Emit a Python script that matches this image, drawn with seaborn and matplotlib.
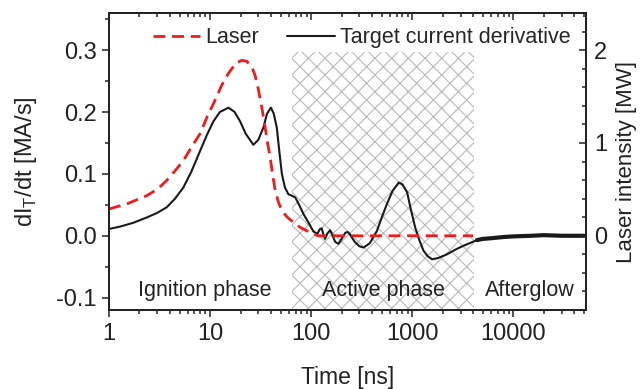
import numpy as np
import pandas as pd
import matplotlib
matplotlib.use('Agg')
import matplotlib.pyplot as plt
import seaborn as sns
from matplotlib.ticker import LogLocator, MultipleLocator, NullFormatter

# Target current derivative (left axis) [ns, MA/s]
t_current = [1.0, 1.3, 1.74, 2.4, 3.0, 3.72, 4.5, 5.44, 6.5, 7.96, 9.3, 10.8, 12.5,
             15.2, 17.5, 19.8, 22.5, 26.8, 30.0, 33.7, 36.5, 39.9, 42.5, 45.7, 48.5,
             51.3, 55.0, 59.6, 64.0, 69.5, 76.0, 84.0, 95.0, 105, 115, 122, 127, 132,
             137, 145, 154, 163, 173, 186, 200, 218, 230, 242, 270, 300, 330, 380,
             447, 500, 560, 640, 735, 800, 890, 960, 1070, 1180, 1290, 1420, 1570,
             1800, 2200, 2700, 3220, 4370]
didt = [0.011, 0.015, 0.021, 0.030, 0.037, 0.046, 0.060, 0.078, 0.103, 0.137, 0.163,
        0.185, 0.200, 0.207, 0.200, 0.185, 0.165, 0.147, 0.155, 0.175, 0.197, 0.207,
        0.198, 0.175, 0.135, 0.100, 0.078, 0.067, 0.065, 0.062, 0.050, 0.035, 0.020,
        0.007, 0.003, 0.011, 0.012, 0.002, -0.005, 0.004, 0.009, 0.000, -0.010,
        -0.013, -0.005, 0.005, 0.006, 0.002, -0.010, -0.017, -0.019, -0.012, 0.008,
        0.030, 0.051, 0.073, 0.086, 0.083, 0.070, 0.045, 0.013, -0.008, -0.024,
        -0.033, -0.038, -0.036, -0.030, -0.022, -0.016, -0.007]

# afterglow tail (noisy trace, drawn thicker)
t_after = [4370, 5000, 6000, 8000, 10000, 15000, 20000, 30000, 50000]
didt_after = [-0.007, -0.005, -0.004, -0.002, -0.001, 0.0, 0.001, 0.0, 0.0]

# Laser intensity (right axis) [ns, MW]
t_laser = [1.0, 1.5, 2.36, 3.0, 3.72, 4.5, 5.44, 6.5, 7.96, 9.5, 11.2, 13.0, 15.2,
           18.0, 20.6, 23.0, 25.9, 28.0, 30.1, 32.5, 35.0, 37.0, 39.3, 41.5, 44.1,
           47.5, 51.3, 58.0, 67.0, 78.0, 90.6, 105, 117, 200, 500, 1000, 2000, 4000]
laser = [0.289, 0.343, 0.432, 0.50, 0.595, 0.70, 0.81, 0.95, 1.10, 1.30, 1.46, 1.62,
         1.75, 1.86, 1.89, 1.88, 1.82, 1.72, 1.57, 1.38, 1.17, 1.00, 0.846, 0.66,
         0.486, 0.36, 0.27, 0.20, 0.144, 0.09, 0.054, 0.02, 0.0, 0.0, 0.0, 0.0, 0.0, 0.0]

phases = ['Ignition phase', 'Active phase', 'Afterglow']
phase_x = [8.9, 516, 14700]
active_span = (64, 4100)

sns.set_theme(style='ticks')
plt.rcParams['font.family'] = ['Liberation Sans', 'DejaVu Sans']
plt.rcParams['hatch.color'] = '#b8b8b8'
plt.rcParams['hatch.linewidth'] = 0.8

INK = '#222222'

fig = plt.figure(figsize=(6.43, 3.89), dpi=100)
ax = fig.add_axes([0.1695, 0.203, 0.7415, 0.7636])

ax.axvspan(*active_span, ymin=0, ymax=0.869, facecolor='none',
           edgecolor='#b8b8b8', hatch='xx', linewidth=0, zorder=0)

df_cur = pd.DataFrame({'t': t_current, 'v': didt})
df_aft = pd.DataFrame({'t': t_after, 'v': didt_after})
df_las = pd.DataFrame({'t': t_laser, 'p': laser})

sns.lineplot(data=df_cur, x='t', y='v', ax=ax, color='#1a1a1a', linewidth=1.5,
             estimator=None, legend=False)
sns.lineplot(data=df_aft, x='t', y='v', ax=ax, color='#1a1a1a', linewidth=3.0,
             estimator=None, legend=False)

ax2 = ax.twinx()
sns.lineplot(data=df_las, x='t', y='p', ax=ax2, color='#ee1c1c', linewidth=2.0,
             estimator=None, legend=False)
ax2.lines[0].set_dashes((4.3, 2.4))

ax.set_xscale('log')
ax.set_xlim(1, 5.2e4)
ax.set_ylim(-0.12, 0.36)
ax2.set_ylim(-0.8, 2.4)

ax.xaxis.set_minor_locator(LogLocator(base=10, subs=np.arange(2, 10), numticks=20))
ax.xaxis.set_minor_formatter(NullFormatter())
ax.set_xticks([1, 10, 100, 1000, 10000])
ax.set_xticklabels(['1', '10', '100', '1000', '10000'])
ax.set_yticks([-0.1, 0.0, 0.1, 0.2, 0.3])
ax.set_yticklabels(['-0.1', '0.0', '0.1', '0.2', '0.3'])
ax.yaxis.set_minor_locator(MultipleLocator(0.05))
ax2.set_yticks([0, 1, 2])
ax2.yaxis.set_minor_locator(MultipleLocator(0.2))

# mirrored top ticks pointing inward
axt = ax.twiny()
axt.set_xscale('log')
axt.set_xlim(ax.get_xlim())
axt.xaxis.set_minor_locator(LogLocator(base=10, subs=np.arange(2, 10), numticks=20))
axt.tick_params(axis='x', which='both', direction='in', labeltop=False, width=1.1)
axt.tick_params(axis='x', which='major', length=5)
axt.tick_params(axis='x', which='minor', length=3)

ax.tick_params(axis='both', which='major', direction='out', length=5, width=1.1,
               labelsize=17, colors=INK, pad=4)
ax.tick_params(axis='both', which='minor', direction='out', length=3, width=1.1)
ax2.tick_params(axis='y', which='major', direction='in', length=5, width=1.1,
                labelsize=17, colors=INK, pad=6)
ax2.tick_params(axis='y', which='minor', direction='in', length=3, width=1.1)

for a in (ax, ax2, axt):
    for s in a.spines.values():
        s.set_linewidth(1.2)
        s.set_color(INK)

ax.set_xlabel('Time [ns]', fontsize=16.5, color=INK)
ax.set_ylabel('dI$_\\mathregular{T}$/dt [MA/s]', fontsize=17, color=INK)
ax2.set_ylabel('Laser intensity [MW]', fontsize=16, color=INK)
ax.xaxis.set_label_coords(0.5, -0.19)
ax.yaxis.set_label_coords(-0.147, 0.5)
ax2.yaxis.set_label_coords(1.063, 0.5)

for name, xp in zip(phases, phase_x):
    ax.text(xp, -0.088, name, ha='center', va='center', fontsize=15.5, color=INK)

handles = [ax2.lines[0], ax.lines[0]]
ax.legend(handles, ['Laser', 'Target current derivative'], loc='center',
          bbox_to_anchor=(0.53, 0.916), ncol=2, frameon=False, fontsize=15.5,
          handlelength=2.2, handletextpad=0.25, columnspacing=1.3)

fig.savefig('out.png', dpi=100)
